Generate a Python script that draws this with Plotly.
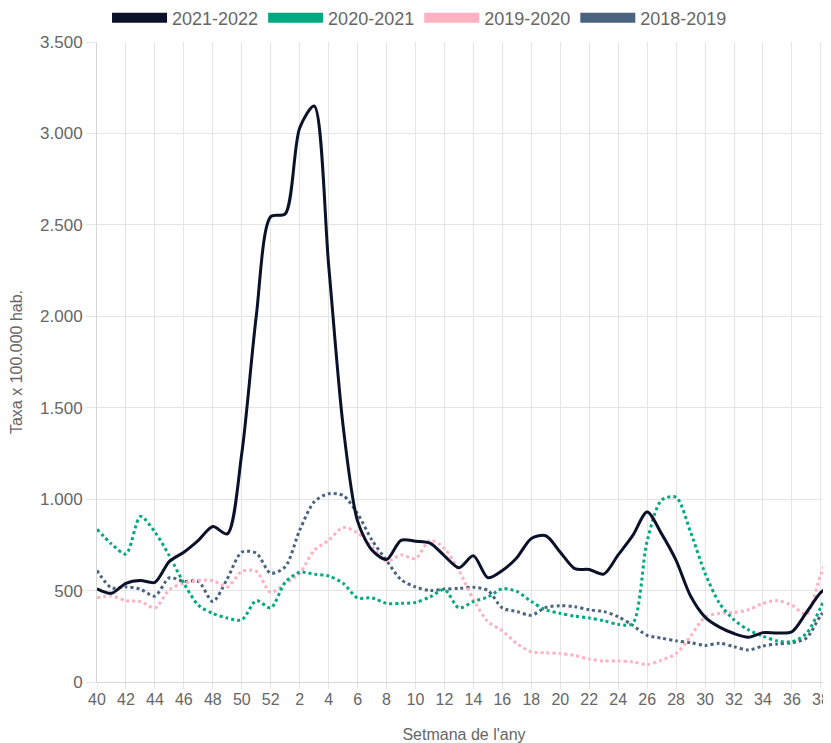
import plotly.graph_objects as go

weeks = ["40", "41", "42", "43", "44", "45", "46", "47", "48", "49", "50", "51", "52",
         "1", "2", "3", "4", "5", "6", "7", "8", "9", "10", "11", "12", "13", "14",
         "15", "16", "17", "18", "19", "20", "21", "22", "23", "24", "25", "26", "27",
         "28", "29", "30", "31", "32", "33", "34", "35", "36", "37", "38", "39"]

s2021_2022 = [510, 485, 540, 555, 545, 660, 710, 775, 850, 810, 1250, 2000, 2545,
              2560, 3030, 3150, 2280, 1400, 880, 720, 670, 775, 770, 760, 690, 625, 690,
              570, 610, 680, 785, 800, 710, 620, 615, 590, 695, 800, 930, 810,
              665, 470, 355, 300, 265, 245, 270, 268, 275, 380, 490, 545]

s2020_2021 = [835, 755, 700, 905, 820, 690, 540, 420, 375, 350, 340, 445, 405,
              545, 600, 590, 580, 540, 460, 460, 430, 430, 435, 465, 505, 405, 440,
              465, 510, 495, 440, 395, 375, 360, 350, 335, 315, 320, 770, 995,
              1010, 820, 595, 430, 340, 285, 250, 225, 220, 265, 410, 590]

s2019_2020 = [460, 470, 445, 440, 405, 505, 540, 555, 555, 520, 605, 605, 490,
              540, 595, 720, 775, 845, 815, 740, 660, 695, 675, 775, 730, 610, 450,
              330, 280, 210, 165, 160, 155, 145, 125, 115, 115, 110, 95, 120,
              155, 250, 355, 375, 380, 395, 430, 445, 420, 370, 590, 780]

s2018_2019 = [610, 515, 520, 508, 470, 570, 550, 550, 440, 565, 710, 705, 595,
              630, 830, 985, 1030, 1020, 920, 775, 665, 560, 520, 500, 508, 512, 518,
              500, 405, 385, 365, 408, 417, 412, 395, 385, 357, 310, 255, 240,
              225, 215, 200, 212, 193, 175, 197, 208, 215, 240, 365, 450]

series = [
    ("2021-2022", s2021_2022, "#0a1129", "solid", 3),
    ("2020-2021", s2020_2021, "#00a97f", "dot", 3),
    ("2019-2020", s2019_2020, "#ffb1c1", "dot", 3),
    ("2018-2019", s2018_2019, "#4a6480", "dot", 3),
]

fig = go.Figure()

# draw older seasons first so 2021-2022 sits on top
for name, vals, color, dash, w in reversed(series):
    fig.add_trace(go.Scatter(
        x=weeks, y=vals, name=name, mode="lines", legendgroup=name,
        showlegend=False,
        line=dict(color=color, width=w, dash=dash, shape="spline", smoothing=0.8),
        hovertemplate="Setmana %{x}: %{y:,.0f}<extra>" + name + "</extra>",
    ))

# legend entries (box-like swatches)
for name, vals, color, dash, w in series:
    fig.add_trace(go.Scatter(
        x=[None], y=[None], name=name, mode="lines", legendgroup=name,
        line=dict(color=color, width=10),
        showlegend=True,
    ))

grid = "#e5e5e5"
fig.update_layout(
    width=823, height=735,
    margin=dict(l=89, r=0, t=34, b=61, autoexpand=False),
    paper_bgcolor="white", plot_bgcolor="white",
    font=dict(family="Liberation Sans, Arial, sans-serif", size=16, color="#666666"),
    separators=",.",
    legend=dict(orientation="h", xref="paper", yref="paper",
                x=0.4394, xanchor="center", y=1.0375, yanchor="middle",
                itemwidth=55, font=dict(size=18, color="#666666"),
                bgcolor="rgba(0,0,0,0)"),
    xaxis=dict(type="category", range=[0, 50.7], tickmode="linear", tick0=0, dtick=2,
               showgrid=True, gridcolor=grid, gridwidth=1,
               ticks="outside", ticklen=6, tickcolor=grid, ticklabelstandoff=-3,
               ticklabeloverflow="allow",
               showline=True, linecolor="#d6d6d6", zeroline=False,
               title=dict(text="Setmana de l'any", standoff=22,
                          font=dict(size=16, color="#666666"))),
    yaxis=dict(range=[0, 3500], tickmode="linear", tick0=0, dtick=500, tickformat=",d",
               showgrid=True, gridcolor=grid, gridwidth=1,
               ticks="outside", ticklen=10, tickcolor=grid,
               tickfont=dict(size=17),
               showline=True, linecolor="#d6d6d6", zeroline=False,
               title=dict(text="Taxa x 100.000 hab.", font=dict(size=16, color="#666666"))),
)

fig.write_html("out.html")
